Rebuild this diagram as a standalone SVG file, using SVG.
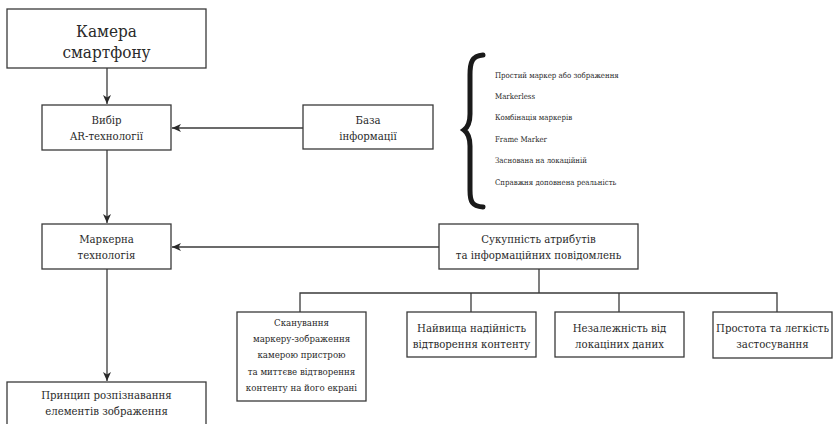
<svg xmlns="http://www.w3.org/2000/svg" width="834" height="424" viewBox="0 0 834 424">
<style>
.box{fill:#fff;stroke:#3a3a3a;stroke-width:1.3}
.t{font-family:"DejaVu Serif","Liberation Serif",serif;font-stretch:condensed;fill:#2a2a2a;text-anchor:middle}
.lg{font-size:17px}
.md{font-size:11.3px}
.sm{font-size:9.6px}
.xs{font-size:7.8px;text-anchor:start}
.ln{fill:none;stroke:#3a3a3a;stroke-width:1.3}
</style>
<defs>
<marker id="ah" markerWidth="9" markerHeight="8" refX="9" refY="4" orient="auto" markerUnits="userSpaceOnUse">
<path d="M0,0 L9,4 L0,8 L2.5,4 Z" fill="#2a2a2a"/>
</marker>
</defs>
<rect width="834" height="424" fill="#fff"/>
<g id="connectors">
<line class="ln" x1="107" y1="68" x2="107" y2="104" marker-end="url(#ah)"/>
<line class="ln" x1="303" y1="128" x2="172" y2="128" marker-end="url(#ah)"/>
<line class="ln" x1="107" y1="150" x2="107" y2="223" marker-end="url(#ah)"/>
<line class="ln" x1="439" y1="247" x2="172" y2="247" marker-end="url(#ah)"/>
<line class="ln" x1="107" y1="269" x2="107" y2="381" marker-end="url(#ah)"/>
<line class="ln" x1="539" y1="269" x2="539" y2="293"/>
<polyline class="ln" points="300,312 300,293 777,293 777,312"/>
<line class="ln" x1="471" y1="293" x2="471" y2="312"/>
<line class="ln" x1="619" y1="293" x2="619" y2="312"/>
</g>
<g id="camera">
<rect class="box" x="7" y="9" width="199" height="59"/>
<text class="t lg" x="106.5" y="37">Камера</text>
<text class="t lg" x="106.5" y="58">смартфону</text>
</g>
<g id="choice">
<rect class="box" x="42" y="105" width="129" height="45"/>
<text class="t md" x="106.5" y="124">Вибір</text>
<text class="t md" x="106.5" y="140">AR-технології</text>
</g>
<g id="base">
<rect class="box" x="303" y="105" width="130" height="44"/>
<text class="t md" x="368" y="124">База</text>
<text class="t md" x="368" y="140">інформації</text>
</g>
<g id="list">
<path d="M483,55 C472,56 470,62 470,75 L470,114 C470,122 468,127 464,130 C468,133 470,138 470,146 L470,190 C470,202 472,206 483,207" fill="none" stroke="#1a1a1a" stroke-width="5" stroke-linecap="round"/>
<text class="t xs" x="495" y="78">Простий маркер або зображення</text>
<text class="t xs" x="495" y="99">Markerless</text>
<text class="t xs" x="495" y="120">Комбінація маркерів</text>
<text class="t xs" x="495" y="142">Frame Marker</text>
<text class="t xs" x="495" y="163">Заснована на локаційній</text>
<text class="t xs" x="495" y="185">Справжня доповнена реальність</text>
</g>
<g id="marker">
<rect class="box" x="42" y="224" width="129" height="45"/>
<text class="t md" x="106.5" y="243">Маркерна</text>
<text class="t md" x="106.5" y="259">технологія</text>
</g>
<g id="attributes">
<rect class="box" x="439" y="224" width="199" height="45"/>
<text class="t md" x="538.5" y="243">Сукупність атрибутів</text>
<text class="t md" x="538.5" y="259">та інформаційних повідомлень</text>
</g>
<g id="principle">
<rect class="box" x="7" y="382" width="199" height="50"/>
<text class="t md" x="106.5" y="399">Принцип розпізнавання</text>
<text class="t md" x="106.5" y="415">елементів зображення</text>
</g>
<g id="scanning">
<rect class="box" x="237" y="312" width="129" height="89"/>
<text class="t sm" x="301.5" y="326">Сканування</text>
<text class="t sm" x="301.5" y="342">маркеру-зображення</text>
<text class="t sm" x="301.5" y="358">камерою пристрою</text>
<text class="t sm" x="301.5" y="375">та миттєве відтворення</text>
<text class="t sm" x="301.5" y="391">контенту на його екрані</text>
</g>
<g id="reliability">
<rect class="box" x="407" y="312" width="129" height="45"/>
<text class="t md" x="471.5" y="332">Найвища надійність</text>
<text class="t md" x="471.5" y="348">відтворення контенту</text>
</g>
<g id="independence">
<rect class="box" x="555" y="312" width="129" height="45"/>
<text class="t md" x="619.5" y="332">Незалежність від</text>
<text class="t md" x="619.5" y="348">локаціних даних</text>
</g>
<g id="simplicity">
<rect class="box" x="713" y="312" width="119" height="46"/>
<text class="t md" x="772.5" y="332">Простота та легкість</text>
<text class="t md" x="772.5" y="348">застосування</text>
</g>
</svg>
